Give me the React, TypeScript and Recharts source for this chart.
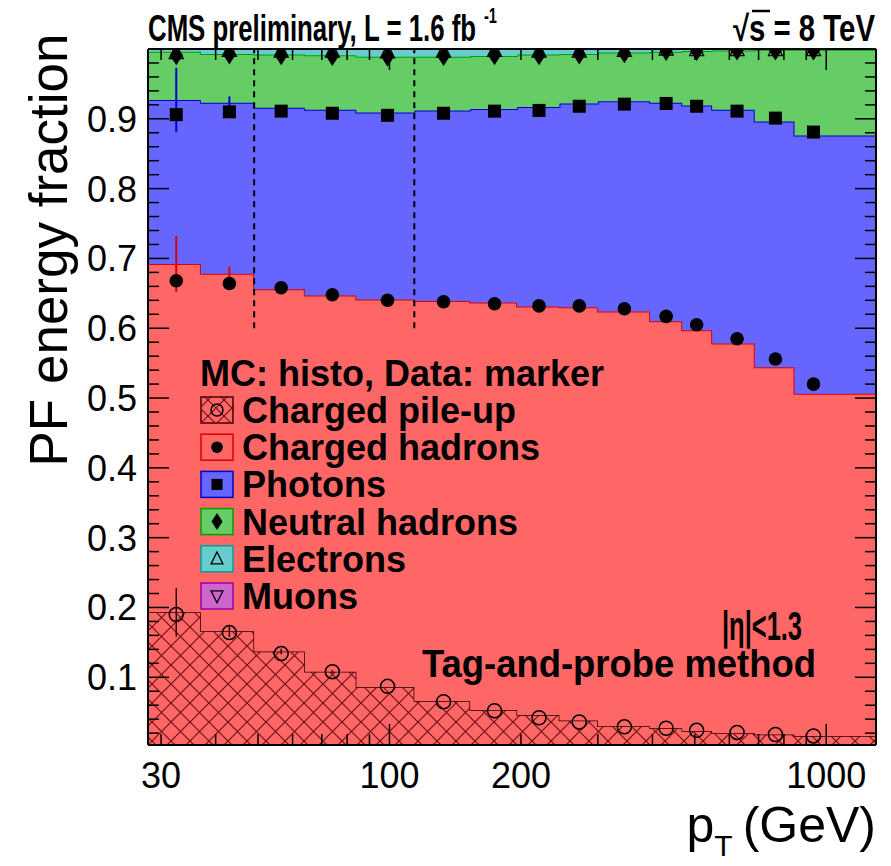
import React from "react";
import {
  ComposedChart,
  Area,
  Scatter,
  XAxis,
  YAxis,
  ReferenceLine,
  ErrorBar,
} from "recharts";

// pT bin edges (GeV) of the MC histograms
const binEdges = [28, 37, 49, 64, 84, 114, 153, 196, 245, 300, 395, 468, 548, 686, 846, 1300];

// MC energy fractions per bin (stacked, bottom to top)
const mcPileUp = [0.193, 0.166, 0.137, 0.108, 0.086, 0.066, 0.053, 0.046, 0.038, 0.03, 0.027, 0.023, 0.02, 0.018, 0.016];
const mcChHad = [0.499, 0.512, 0.519, 0.539, 0.555, 0.573, 0.584, 0.585, 0.592, 0.594, 0.583, 0.574, 0.558, 0.526, 0.49];
const mcPhoton = [0.235, 0.245, 0.26, 0.266, 0.268, 0.273, 0.277, 0.286, 0.292, 0.301, 0.313, 0.322, 0.335, 0.352, 0.37];
const mcNeuHad = [0.069, 0.07, 0.076, 0.078, 0.08, 0.077, 0.076, 0.075, 0.071, 0.07, 0.073, 0.078, 0.085, 0.103, 0.123];
const mcElec = [0.0035, 0.0065, 0.0075, 0.0085, 0.0105, 0.0105, 0.0095, 0.0075, 0.0065, 0.0045, 0.0035, 0.0025, 0.0015, 0.0005, 0.0005];
const mcMuon = [0.0005, 0.0005, 0.0005, 0.0005, 0.0005, 0.0005, 0.0005, 0.0005, 0.0005, 0.0005, 0.0005, 0.0005, 0.0005, 0.0005, 0.0005];

// MC stat. errors (only visible in the lowest bins)
const mcErrPileUp = [0.035, 0.008, 0.004, 0.002, 0, 0, 0, 0, 0, 0, 0, 0, 0, 0, 0];
const mcErrChHad = [0.04, 0.01, 0.004, 0, 0, 0, 0, 0, 0, 0, 0, 0, 0, 0, 0];
const mcErrPhoton = [0.046, 0.009, 0.003, 0, 0, 0, 0, 0, 0, 0, 0, 0, 0, 0, 0];

// data points
const dataPt = [32.5, 43, 56.5, 74, 99, 133, 174, 220, 272, 345, 430, 505, 625, 765, 935];
const dataPileUp = [0.19, 0.164, 0.134, 0.108, 0.087, 0.065, 0.052, 0.042, 0.036, 0.029, 0.027, 0.024, 0.021, 0.018, 0.016];
const dataChHad = [0.478, 0.5, 0.524, 0.54, 0.553, 0.573, 0.583, 0.59, 0.596, 0.599, 0.59, 0.581, 0.564, 0.538, 0.504];
const dataPhoton = [0.238, 0.246, 0.253, 0.26, 0.265, 0.27, 0.276, 0.28, 0.286, 0.293, 0.305, 0.313, 0.326, 0.345, 0.361];
const dataNeuHad = [0.085, 0.082, 0.08, 0.082, 0.084, 0.082, 0.08, 0.079, 0.074, 0.073, 0.075, 0.079, 0.087, 0.097, 0.117];
const dataElec = [0.004, 0.006, 0.006, 0.007, 0.007, 0.007, 0.007, 0.006, 0.005, 0.004, 0.003, 0.002, 0.001, 0.001, 0.001];

const xTicks = [30, 40, 50, 60, 70, 80, 90, 100, 200, 300, 400, 500, 600, 700, 800, 900, 1000];
const xLabels = [30, 100, 200, 1000];
const yTicks = Array.from({ length: 50 }, (_, i) => Math.round((i + 1) * 2) / 100);
const dashedEdges = [49, 114];

const font = "'Liberation Sans', Arial, Helvetica, sans-serif";
const RED = "#ff6666";
const BLUE = "#6666ff";
const GREEN = "#66cc66";
const CYAN = "#66cccc";
const MAGENTA = "#cc66cc";

const W = 891;
const H = 866;

const histRows = binEdges.map((pt, i) => {
  const k = Math.min(i, mcPileUp.length - 1);
  return {
    pt,
    pu: mcPileUp[k],
    ch: mcChHad[k],
    ph: mcPhoton[k],
    nh: mcNeuHad[k],
    el: mcElec[k],
    mu: mcMuon[k],
  };
});

const stackUp = (layers: number[][]) =>
  dataPt.map((pt, i) => ({ pt, v: layers.reduce((s, a) => s + a[i], 0) }));

const puPoints = stackUp([dataPileUp]);
const chPoints = stackUp([dataPileUp, dataChHad]);
const phPoints = stackUp([dataPileUp, dataChHad, dataPhoton]);
const nhPoints = stackUp([dataPileUp, dataChHad, dataPhoton, dataNeuHad]);
const elPoints = stackUp([dataPileUp, dataChHad, dataPhoton, dataNeuHad, dataElec]);

const mcErr = (layers: number[][], errs: number[]) =>
  dataPt.map((pt, i) => ({
    pt,
    v: layers.reduce((s, a) => s + a[i], 0),
    err: errs[i],
  }));
const puErrRows = mcErr([mcPileUp], mcErrPileUp);
const chErrRows = mcErr([mcPileUp, mcChHad], mcErrChHad);
const phErrRows = mcErr([mcPileUp, mcChHad, mcPhoton], mcErrPhoton);

type MarkerKind = "openCircle" | "dot" | "square" | "diamond" | "triUp" | "triDown";

const drawMarker = (kind: MarkerKind, cx: number, cy: number, s = 1) => {
  switch (kind) {
    case "openCircle":
      return <circle cx={cx} cy={cy} r={7 * s} fill="none" stroke="#000" strokeWidth={1.5} />;
    case "dot":
      return <circle cx={cx} cy={cy} r={6.8 * s} fill="#000" />;
    case "square":
      return <rect x={cx - 6.5 * s} y={cy - 6.5 * s} width={13 * s} height={13 * s} fill="#000" />;
    case "diamond":
      return (
        <polygon
          points={`${cx},${cy - 10 * s} ${cx + 6.5 * s},${cy} ${cx},${cy + 10 * s} ${cx - 6.5 * s},${cy}`}
          fill="#000"
        />
      );
    case "triUp":
      return (
        <polygon
          points={`${cx},${cy - 8 * s} ${cx + 7 * s},${cy + 6 * s} ${cx - 7 * s},${cy + 6 * s}`}
          fill="none"
          stroke="#000"
          strokeWidth={1.3}
        />
      );
    default:
      return (
        <polygon
          points={`${cx},${cy + 8 * s} ${cx + 7 * s},${cy - 6 * s} ${cx - 7 * s},${cy - 6 * s}`}
          fill="none"
          stroke="#000"
          strokeWidth={1.3}
        />
      );
  }
};

const shapeOf = (kind: MarkerKind) => (p: any) => <g>{drawMarker(kind, p.cx, p.cy)}</g>;
const noShape = () => <g />;

const BottomTick = ({ x, y, payload }: any) => {
  const v = payload.value;
  const long = v === 100 || v === 1000;
  return (
    <g>
      <line x1={x} x2={x} y1={y} y2={y - (long ? 21 : 11)} stroke="#000" strokeWidth={1.5} />
      {xLabels.includes(v) && (
        <text x={x} y={y + 43} textAnchor="middle" fontSize={36} fontFamily={font} fill="#000">
          {v}
        </text>
      )}
    </g>
  );
};

const TopTick = ({ x, y, payload }: any) => {
  const v = payload.value;
  const long = v === 100 || v === 1000;
  return <line x1={x} x2={x} y1={y} y2={y + (long ? 21 : 11)} stroke="#000" strokeWidth={1.5} />;
};

const isMajorY = (v: number) => Math.abs(v * 10 - Math.round(v * 10)) < 1e-6;

const LeftTick = ({ x, y, payload }: any) => {
  const v = payload.value;
  const major = isMajorY(v);
  return (
    <g>
      <line x1={x} x2={x + (major ? 21 : 11)} y1={y} y2={y} stroke="#000" strokeWidth={1.5} />
      {major && v < 0.95 && (
        <text x={x - 11} y={y + 13} textAnchor="end" fontSize={36} fontFamily={font} fill="#000">
          {v.toFixed(1)}
        </text>
      )}
    </g>
  );
};

const RightTick = ({ x, y, payload }: any) => {
  const major = isMajorY(payload.value);
  return <line x1={x} x2={x - (major ? 21 : 11)} y1={y} y2={y} stroke="#000" strokeWidth={1.5} />;
};

const legendRows: { label: string; fill: string; stroke: string; marker: MarkerKind }[] = [
  { label: "Charged pile-up", fill: "url(#puHatchLeg)", stroke: "#4a0000", marker: "openCircle" },
  { label: "Charged hadrons", fill: RED, stroke: "#dd0000", marker: "dot" },
  { label: "Photons", fill: BLUE, stroke: "#0000cc", marker: "square" },
  { label: "Neutral hadrons", fill: GREEN, stroke: "#00a000", marker: "diamond" },
  { label: "Electrons", fill: CYAN, stroke: "#00a0a0", marker: "triUp" },
  { label: "Muons", fill: MAGENTA, stroke: "#a000a0", marker: "triDown" },
];

// shared axis set; `show` decides if ticks and frame are drawn
const Axes = (show: boolean) => {
  const axisLine = show ? { stroke: "#000", strokeWidth: 2 } : false;
  return [
    <XAxis
      key="xb"
      dataKey="pt"
      type="number"
      scale="log"
      domain={[28, 1300]}
      allowDataOverflow
      ticks={xTicks}
      interval={0}
      tickSize={0}
      tickMargin={0}
      tick={show ? <BottomTick /> : false}
      tickLine={false}
      axisLine={axisLine}
      height={121}
    />,
    <XAxis
      key="xt"
      xAxisId="top"
      orientation="top"
      dataKey="pt"
      type="number"
      scale="log"
      domain={[28, 1300]}
      allowDataOverflow
      ticks={xTicks}
      interval={0}
      tickSize={0}
      tickMargin={0}
      tick={show ? <TopTick /> : false}
      tickLine={false}
      axisLine={axisLine}
      height={49}
    />,
    <YAxis
      key="yl"
      type="number"
      domain={[0.003, 1]}
      allowDataOverflow
      ticks={yTicks}
      interval={0}
      tickSize={0}
      tickMargin={0}
      tick={show ? <LeftTick /> : false}
      tickLine={false}
      axisLine={axisLine}
      width={148}
    />,
    <YAxis
      key="yr"
      yAxisId="r"
      orientation="right"
      type="number"
      domain={[0.003, 1]}
      allowDataOverflow
      ticks={yTicks}
      interval={0}
      tickSize={0}
      tickMargin={0}
      tick={show ? <RightTick /> : false}
      tickLine={false}
      axisLine={axisLine}
      width={15}
    />,
  ];
};

const App: React.FC = () => {
  const margin = { top: 0, right: 0, bottom: 0, left: 0 };
  return (
    <div style={{ position: "absolute", left: 0, top: 0, width: W, height: H }}>
      {/* histograms and data markers */}
      <div style={{ position: "absolute", left: 0, top: 0 }}>
        <ComposedChart width={W} height={H} data={histRows} margin={margin}>
          <defs>
            <pattern id="puHatch" patternUnits="userSpaceOnUse" width={19} height={19}>
              <rect width={19} height={19} fill={RED} />
              <path d="M0,0 L19,19 M19,0 L0,19" stroke="#701010" strokeWidth={1.2} />
            </pattern>
          </defs>
          {Axes(false)}
          <Area type="stepAfter" dataKey="pu" stackId="pf" fill="url(#puHatch)" fillOpacity={1} stroke="#2a0000" strokeWidth={1.5} isAnimationActive={false} />
          <Area type="stepAfter" dataKey="ch" stackId="pf" fill={RED} fillOpacity={1} stroke="#dd0000" strokeWidth={2} isAnimationActive={false} />
          <Area type="stepAfter" dataKey="ph" stackId="pf" fill={BLUE} fillOpacity={1} stroke="#0000cc" strokeWidth={2} isAnimationActive={false} />
          <Area type="stepAfter" dataKey="nh" stackId="pf" fill={GREEN} fillOpacity={1} stroke="#00a000" strokeWidth={2} isAnimationActive={false} />
          <Area type="stepAfter" dataKey="el" stackId="pf" fill={CYAN} fillOpacity={1} stroke="#00a0a0" strokeWidth={1} isAnimationActive={false} />
          <Area type="stepAfter" dataKey="mu" stackId="pf" fill={MAGENTA} fillOpacity={1} stroke="none" isAnimationActive={false} />

          <Scatter data={puErrRows} dataKey="v" shape={noShape} isAnimationActive={false}>
            <ErrorBar dataKey="err" direction="y" width={0} stroke="#2a0000" strokeWidth={1.5} isAnimationActive={false} />
          </Scatter>
          <Scatter data={chErrRows} dataKey="v" shape={noShape} isAnimationActive={false}>
            <ErrorBar dataKey="err" direction="y" width={0} stroke="#dd0000" strokeWidth={2} isAnimationActive={false} />
          </Scatter>
          <Scatter data={phErrRows} dataKey="v" shape={noShape} isAnimationActive={false}>
            <ErrorBar dataKey="err" direction="y" width={0} stroke="#0000cc" strokeWidth={2} isAnimationActive={false} />
          </Scatter>

          <Scatter data={puPoints} dataKey="v" shape={shapeOf("openCircle")} isAnimationActive={false} />
          <Scatter data={chPoints} dataKey="v" shape={shapeOf("dot")} isAnimationActive={false} />
          <Scatter data={phPoints} dataKey="v" shape={shapeOf("square")} isAnimationActive={false} />
          <Scatter data={nhPoints} dataKey="v" shape={shapeOf("diamond")} isAnimationActive={false} />
          <Scatter data={elPoints} dataKey="v" shape={shapeOf("triUp")} isAnimationActive={false} />
        </ComposedChart>
      </div>

      {/* frame, ticks, guide lines and texts on top */}
      <div style={{ position: "absolute", left: 0, top: 0 }}>
        <ComposedChart width={W} height={H} data={histRows} margin={margin}>
          <defs>
            <pattern id="puHatchLeg" patternUnits="userSpaceOnUse" width={16} height={16}>
              <rect width={16} height={16} fill={RED} />
              <path d="M0,0 L16,16 M16,0 L0,16" stroke="#701010" strokeWidth={1.2} />
            </pattern>
          </defs>
          {Axes(true)}
          {dashedEdges.map((e) => (
            <ReferenceLine
              key={e}
              segment={[
                { x: e, y: 0.6 },
                { x: e, y: 1 },
              ]}
              stroke="#000"
              strokeWidth={2}
              strokeDasharray="6 5"
            />
          ))}

          {/* legend */}
          <g fontFamily={font} fontWeight="bold" fill="#000">
            <text x={200} y={386} fontSize={36}>
              MC: histo, Data: marker
            </text>
            {legendRows.map((r, i) => {
              const cy = 410 + i * 37.2;
              return (
                <g key={r.label}>
                  <rect x={201} y={cy - 13} width={32} height={26} fill={r.fill} stroke={r.stroke} strokeWidth={1.5} />
                  {drawMarker(r.marker, 217, cy, 0.85)}
                  <text x={242} y={cy + 13} fontSize={36}>
                    {r.label}
                  </text>
                </g>
              );
            })}
            <text x={722} y={640} fontSize={40} textLength={80} lengthAdjust="spacingAndGlyphs">
              |η|&lt;1.3
            </text>
            <text x={422} y={677} fontSize={38} textLength={394} lengthAdjust="spacingAndGlyphs">
              Tag-and-probe method
            </text>
          </g>

          {/* header */}
          <g fontFamily={font} fontWeight="bold" fill="#000">
            <text x={148} y={41} fontSize={36} textLength={328} lengthAdjust="spacingAndGlyphs">
              CMS preliminary, L = 1.6 fb
            </text>
            <text x={484} y={23} fontSize={22} textLength={13} lengthAdjust="spacingAndGlyphs">
              -1
            </text>
            <text x={733} y={41} fontSize={36} textLength={142} lengthAdjust="spacingAndGlyphs">
              √s = 8 TeV
            </text>
            <line x1={752} x2={770} y1={11} y2={11} stroke="#000" strokeWidth={2.5} />
          </g>

          {/* axis titles */}
          <text transform="translate(67,250) rotate(-90)" textAnchor="middle" fontSize={53} fontFamily={font} fill="#000">
            PF energy fraction
          </text>
          <text x={876} y={842} textAnchor="end" fontSize={50} fontFamily={font} fill="#000">
            p
            <tspan fontSize={30} dy={14}>
              T
            </tspan>
            <tspan dy={-14} dx={10}>
              (GeV)
            </tspan>
          </text>
        </ComposedChart>
      </div>
    </div>
  );
};

export default App;
